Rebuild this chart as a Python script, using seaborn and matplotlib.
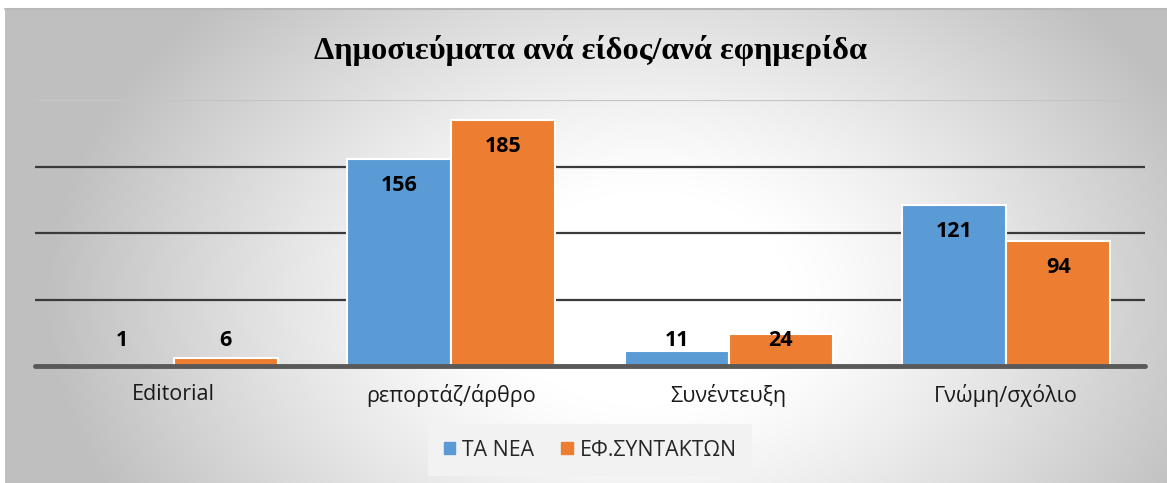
import numpy as np
import pandas as pd
import matplotlib
matplotlib.use("Agg")
import matplotlib.pyplot as plt
import seaborn as sns

categories = ["Editorial", "ρεπορτάζ/άρθρο", "Συνέντευξη", "Γνώμη/σχόλιο"]
ta_nea = [1, 156, 11, 121]
ef_syntakton = [6, 185, 24, 94]
series_names = ["ΤΑ ΝΕΑ", "ΕΦ.ΣΥΝΤΑΚΤΩΝ"]
colors = ["#5B9BD5", "#ED7D31"]
title = "Δημοσιεύματα ανά είδος/ανά εφημερίδα"

df = pd.DataFrame({
    "category": categories * 2,
    "value": ta_nea + ef_syntakton,
    "series": [series_names[0]] * 4 + [series_names[1]] * 4,
})

sns.set_theme(style="white")
plt.rcParams['font.family'] = ['Open Sans', 'DejaVu Sans']

W, H = 1167, 483
fig = plt.figure(figsize=(W / 100, H / 100), dpi=100)
fig.patch.set_facecolor("white")

# radial gray-to-white background of the chart area
bg = fig.add_axes([5 / W, 0, 1 - 5 / W, (H - 9) / H], zorder=-5)
yy, xx = np.mgrid[0:474, 0:1162]
d = np.sqrt(((xx - 640) / 600) ** 2 + ((yy - 290) / 430) ** 2)
shade = 1 - 0.25 * np.clip((d - 0.25) / 0.75, 0, 1) ** 1.2
bg.imshow(np.dstack([shade] * 3), aspect="auto", extent=[0, 1, 0, 1])
bg.set_axis_off()
fig.add_artist(plt.Line2D([5 / W, 1], [(H - 9) / H] * 2, color="#b8b8b8", lw=1.5))

ax = fig.add_axes([35 / W, (H - 366) / H, 1110 / W, 266 / H])
ax.set_facecolor("none")
sns.barplot(data=df, x="category", y="value", hue="series", palette=colors,
            saturation=1, width=0.75, edgecolor="white", linewidth=1.5, ax=ax)
ax.set_ylim(0, 200)
ax.set_xlim(-0.5, 3.5)
ax.set_yticks([50, 100, 150, 200])
ax.yaxis.grid(True, color="#3a3a3a", lw=1.6)
ax.get_ygridlines()[-1].set_color("#c4c4c4")
ax.set_axisbelow(True)
ax.tick_params(axis="y", left=False, labelleft=False)
ax.tick_params(axis="x", bottom=False, labelsize=15.5, pad=7, colors="#1a1a1a")
ax.set_xlabel("")
ax.set_ylabel("")
for s in ax.spines.values():
    s.set_visible(False)
ax.axhline(0, color="#595959", lw=3.5, zorder=3, clip_on=False)

for cont in ax.containers:
    for bar in cont:
        v = bar.get_height()
        ypos = max(v - 20, 19.5)
        ax.text(bar.get_x() + bar.get_width() / 2, ypos, f"{v:.0f}",
                ha="center", va="center", fontsize=15.5, fontweight="bold",
                color="black", zorder=5)

ax.legend_.remove()
handles = [plt.Rectangle((0, 0), 1, 1, color=c) for c in colors]
leg = fig.legend(handles, series_names, loc="center", ncol=2,
                 bbox_to_anchor=(590 / W, 33 / H), frameon=True,
                 fontsize=15.3, handlelength=0.55, handleheight=0.55,
                 handletextpad=0.3, columnspacing=1.3, borderpad=0.75,
                 borderaxespad=0, fancybox=False)
leg.get_frame().set_facecolor("#f2f2f2")
leg.get_frame().set_edgecolor("none")
leg.get_frame().set_alpha(1)

fig.text(591 / W, (H - 50) / H, title, ha="center", va="center",
         fontsize=23.3, fontweight="bold", color="black",
         family=["Liberation Serif", "DejaVu Serif"])

fig.savefig("out.png", dpi=100)
